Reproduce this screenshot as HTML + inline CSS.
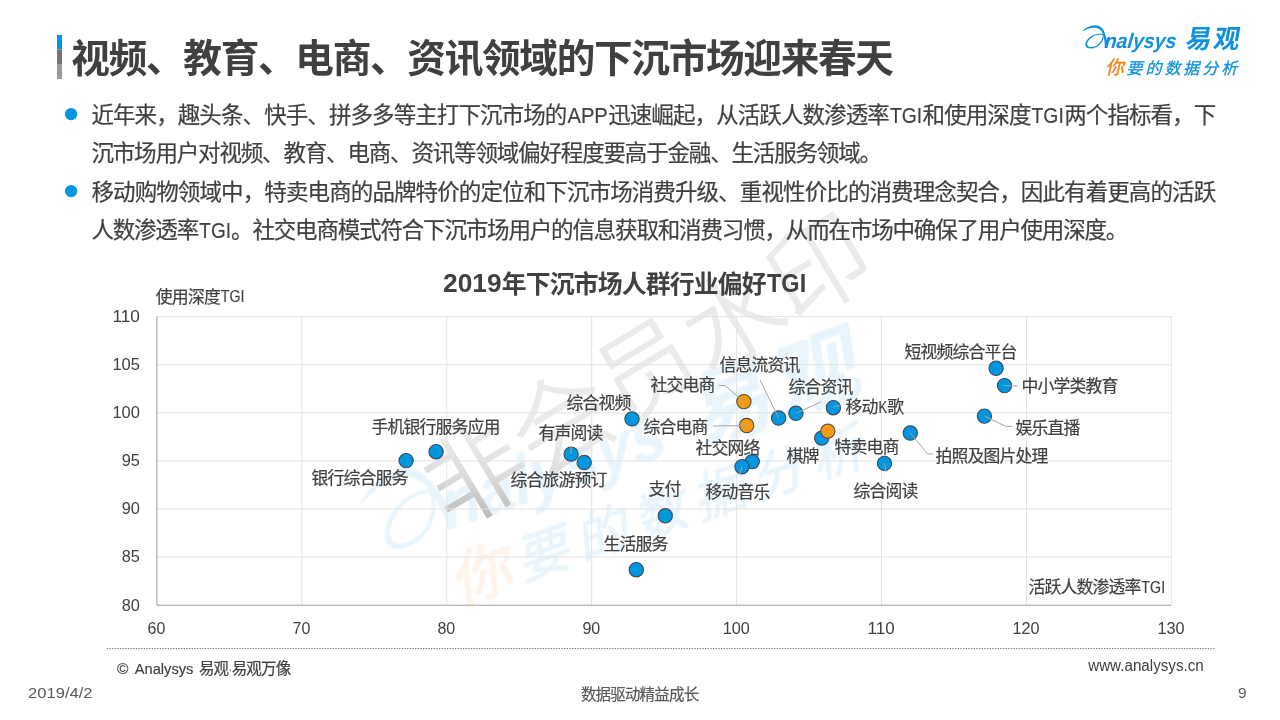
<!DOCTYPE html>
<html lang="zh-CN">
<head>
<meta charset="utf-8">
<title>视频、教育、电商、资讯领域的下沉市场迎来春天</title>
<style>
html,body{margin:0;padding:0;background:#fff;}
body{width:1280px;height:720px;overflow:hidden;font-family:"Liberation Sans","Noto Sans CJK SC",sans-serif;}
svg{display:block;}
svg text{font-family:"Liberation Sans","Noto Sans CJK SC",sans-serif;}
</style>
</head>
<body>
<svg width="1280" height="720" viewBox="0 0 1280 720" fill="#404040">
<defs>
<linearGradient id="wmg" gradientUnits="userSpaceOnUse" x1="-4.7" y1="-14.9" x2="36.5" y2="-83.4">
<stop offset="0" stop-color="#b9b9b9"/><stop offset=".5" stop-color="#d9d9d9"/><stop offset="1" stop-color="#ebebeb"/>
</linearGradient>
</defs>
<rect width="1280" height="720" fill="#fff"/>
<g id="watermark" aria-hidden="true"><g transform="translate(328.2 468.5) rotate(-19) scale(3.282)" opacity=".095"><g transform="scale(.08594)" fill="#1191dd"><path d="M65 158C100 120 160 84 220 83C275 82 315 115 332 165C340 190 350 222 362 262L362 345L335 345C338 300 330 215 300 158C282 128 250 112 210 112C160 112 110 135 65 158Z"/><path fill-rule="evenodd" d="M322 190C290 172 230 180 180 210C130 242 100 290 112 325C125 360 185 362 235 340C290 315 330 255 322 190ZM310 199C282 186 233 195 192 220C150 246 124 286 132 314C142 343 192 345 234 325C279 302 316 246 310 199Z"/></g><text transform="translate(28.2 29.7) skewX(-6)" font-size="21" font-style="italic" font-weight="bold" fill="#1191dd" textLength="71.6" lengthAdjust="spacingAndGlyphs">nalysys</text><g fill="#1191dd" transform="translate(109.3 30.2) skewX(-10) translate(-109.3 -30.2)"><text x="108.6" y="30.4" font-size="26" font-weight="bold" textLength="53.9">易观</text></g><g transform="translate(-5.5 -4)"><g fill="#f0861a" transform="translate(29.5 56.2) skewX(-12) translate(-29.5 -56.2)" stroke="#f0861a" stroke-width=".45"><text x="29.5" y="56.2" font-size="18.5">你</text></g><g fill="#1191dd" transform="translate(51.3 55.4) skewX(-14) translate(-51.3 -55.4)" stroke="#1191dd" stroke-width=".3"><text x="50.6" y="55.8" font-size="16" textLength="110.75">要的数据分析</text></g></g></g><g transform="translate(451.7 530.3) rotate(-31)"><text x="0" y="0" font-size="100" font-weight="300" fill="url(#wmg)" stroke="url(#wmg)" stroke-width="1.5" stroke-linejoin="round" textLength="500">非会员水印</text></g></g>
<g id="slide-title">
<rect x="57" y="35" width="5" height="14.5" fill="#0096e0"/>
<rect x="57" y="49.5" width="5" height="14.5" fill="#757575"/>
<rect x="57" y="64" width="5" height="15" fill="#9b9b9b"/>
<text x="71.35" y="71.7" font-size="38.64" font-weight="bold" fill="#404040" textLength="822.6">视频、教育、电商、资讯领域的下沉市场迎来春天</text>
</g>
<g id="bullets">
<g fill="#404040" stroke="#404040" stroke-width=".2"><text x="91.41" y="122.95" font-size="22.51" textLength="475.9">近年来，趣头条、快手、拼多多等主打下沉市场的</text><text x="608.19" y="122.95" font-size="22.51" textLength="281.6">迅速崛起，从活跃人数渗透率</text><text x="922.57" y="122.95" font-size="22.51" textLength="108.9">和使用深度</text><text x="1064.22" y="122.95" font-size="22.51" textLength="152">两个指标看，下</text><text x="567.51" y="122.5" font-size="21.65" textLength="40.29" lengthAdjust="spacingAndGlyphs" stroke="#404040" stroke-width=".15">APP</text><text x="889.94" y="122.5" font-size="21.65" textLength="32.18" lengthAdjust="spacingAndGlyphs" stroke="#404040" stroke-width=".15">TGI</text><text x="1031.58" y="122.5" font-size="21.65" textLength="32.18" lengthAdjust="spacingAndGlyphs" stroke="#404040" stroke-width=".15">TGI</text></g>
<g fill="#404040" stroke="#404040" stroke-width=".2"><text x="91.41" y="161.45" font-size="22.51" textLength="790.6">沉市场用户对视频、教育、电商、资讯等领域偏好程度要高于金融、生活服务领域。</text></g>
<g fill="#404040" stroke="#404040" stroke-width=".2"><text x="91.41" y="199.95" font-size="22.51" textLength="1124.8">移动购物领域中，特卖电商的品牌特价的定位和下沉市场消费升级、重视性价比的消费理念契合，因此有着更高的活跃</text></g>
<g fill="#404040" stroke="#404040" stroke-width=".2"><text x="91.41" y="238.45" font-size="22.51" textLength="107.8">人数渗透率</text><text x="231.06" y="238.45" font-size="22.51" textLength="897.3">。社交电商模式符合下沉市场用户的信息获取和消费习惯，从而在市场中确保了用户使用深度。</text><text x="199.3" y="238" font-size="21.65" textLength="31.68" lengthAdjust="spacingAndGlyphs" stroke="#404040" stroke-width=".15">TGI</text></g>
<circle cx="71.1" cy="114.1" r="6.2" fill="#0096e0"/>
<circle cx="71.1" cy="191.1" r="6.2" fill="#0096e0"/>
</g>
<g id="chart">
<path d="M301.83 316.6V605.2M446.76 316.6V605.2M591.69 316.6V605.2M736.61 316.6V605.2M881.54 316.6V605.2M1026.47 316.6V605.2M1171.4 316.6V605.2M156.9 316.6H1171.4M156.9 364.7H1171.4M156.9 412.8H1171.4M156.9 460.9H1171.4M156.9 509H1171.4M156.9 557.1H1171.4" stroke="#e3e3e3" stroke-width="1" fill="none"/>
<path d="M156.9 316.6V605.2H1171.4" stroke="#9a9a9a" stroke-width="1" stroke-linejoin="round" fill="none"/>
<text x="112.4" y="321.9" font-size="17.2" textLength="27.5" lengthAdjust="spacingAndGlyphs">110</text>
<text x="112.4" y="370" font-size="17.2" textLength="27.5" lengthAdjust="spacingAndGlyphs">105</text>
<text x="112.4" y="418.1" font-size="17.2" textLength="27.5" lengthAdjust="spacingAndGlyphs">100</text>
<text x="121.7" y="466.2" font-size="17.2" textLength="18.2" lengthAdjust="spacingAndGlyphs">95</text>
<text x="121.7" y="514.3" font-size="17.2" textLength="18.2" lengthAdjust="spacingAndGlyphs">90</text>
<text x="121.7" y="562.4" font-size="17.2" textLength="18.2" lengthAdjust="spacingAndGlyphs">85</text>
<text x="121.7" y="610.5" font-size="17.2" textLength="18.2" lengthAdjust="spacingAndGlyphs">80</text>
<text x="147.6" y="634.1" font-size="17.2" textLength="17.8" lengthAdjust="spacingAndGlyphs">60</text>
<text x="292.53" y="634.1" font-size="17.2" textLength="17.8" lengthAdjust="spacingAndGlyphs">70</text>
<text x="437.46" y="634.1" font-size="17.2" textLength="17.8" lengthAdjust="spacingAndGlyphs">80</text>
<text x="582.39" y="634.1" font-size="17.2" textLength="17.8" lengthAdjust="spacingAndGlyphs">90</text>
<text x="722.66" y="634.1" font-size="17.2" textLength="27.1" lengthAdjust="spacingAndGlyphs">100</text>
<text x="867.59" y="634.1" font-size="17.2" textLength="27.1" lengthAdjust="spacingAndGlyphs">110</text>
<text x="1012.52" y="634.1" font-size="17.2" textLength="27.1" lengthAdjust="spacingAndGlyphs">120</text>
<text x="1157.45" y="634.1" font-size="17.2" textLength="27.1" lengthAdjust="spacingAndGlyphs">130</text>
<g fill="#404040"><text x="501.87" y="292.72" font-size="24.84" font-weight="bold" textLength="264.8">年下沉市场人群行业偏好</text><text x="443.02" y="292.4" font-size="26.6" textLength="58.56" lengthAdjust="spacingAndGlyphs" font-weight="bold">2019</text><text x="767.02" y="292.4" font-size="26.6" textLength="39.16" lengthAdjust="spacingAndGlyphs" font-weight="bold">TGI</text></g>
<g fill="#404040" stroke="#404040" stroke-width=".2"><text x="155.86" y="302.63" font-size="16.88" textLength="64.9">使用深度</text><text x="220.78" y="302.3" font-size="16.24" textLength="23.76" lengthAdjust="spacingAndGlyphs" stroke="#404040" stroke-width=".15">TGI</text></g>
<g fill="#404040" stroke="#404040" stroke-width=".2"><text x="1028.44" y="593.33" font-size="16.88" textLength="112.9">活跃人数渗透率</text><text x="1141.36" y="593" font-size="16.24" textLength="23.76" lengthAdjust="spacingAndGlyphs" stroke="#404040" stroke-width=".15">TGI</text></g>
<circle cx="406.1" cy="460.6" r="7.15" fill="#0096e0" stroke="#3a4b5a" stroke-width="1.1"/>
<circle cx="436.1" cy="451.7" r="7.15" fill="#0096e0" stroke="#3a4b5a" stroke-width="1.1"/>
<circle cx="571.1" cy="454.1" r="7.15" fill="#0096e0" stroke="#3a4b5a" stroke-width="1.1"/>
<circle cx="584.2" cy="462.5" r="7.15" fill="#0096e0" stroke="#3a4b5a" stroke-width="1.1"/>
<circle cx="632" cy="418.9" r="7.15" fill="#0096e0" stroke="#3a4b5a" stroke-width="1.1"/>
<circle cx="743.9" cy="401.6" r="7.15" fill="#f39c11" stroke="#4f4a40" stroke-width="1.1"/>
<circle cx="746.7" cy="425.5" r="7.15" fill="#f39c11" stroke="#4f4a40" stroke-width="1.1"/>
<circle cx="778.6" cy="418" r="7.15" fill="#0096e0" stroke="#3a4b5a" stroke-width="1.1"/>
<circle cx="795.9" cy="413.3" r="7.15" fill="#0096e0" stroke="#3a4b5a" stroke-width="1.1"/>
<circle cx="833.4" cy="407.7" r="7.15" fill="#0096e0" stroke="#3a4b5a" stroke-width="1.1"/>
<circle cx="821.7" cy="438.1" r="7.15" fill="#0096e0" stroke="#3a4b5a" stroke-width="1.1"/>
<circle cx="827.8" cy="431.1" r="7.15" fill="#f39c11" stroke="#4f4a40" stroke-width="1.1"/>
<circle cx="752.3" cy="461.6" r="7.15" fill="#0096e0" stroke="#3a4b5a" stroke-width="1.1"/>
<circle cx="742" cy="466.7" r="7.15" fill="#0096e0" stroke="#3a4b5a" stroke-width="1.1"/>
<circle cx="884.5" cy="463.4" r="7.15" fill="#0096e0" stroke="#3a4b5a" stroke-width="1.1"/>
<circle cx="910.3" cy="433" r="7.15" fill="#0096e0" stroke="#3a4b5a" stroke-width="1.1"/>
<circle cx="984.4" cy="416.1" r="7.15" fill="#0096e0" stroke="#3a4b5a" stroke-width="1.1"/>
<circle cx="996.1" cy="368.3" r="7.15" fill="#0096e0" stroke="#3a4b5a" stroke-width="1.1"/>
<circle cx="1004.5" cy="385.6" r="7.15" fill="#0096e0" stroke="#3a4b5a" stroke-width="1.1"/>
<circle cx="665.3" cy="515.8" r="7.15" fill="#0096e0" stroke="#3a4b5a" stroke-width="1.1"/>
<circle cx="636.3" cy="569.7" r="7.15" fill="#0096e0" stroke="#3a4b5a" stroke-width="1.1"/>
<polyline points="571,447 571,454" fill="none" stroke="#a6a6a6" stroke-width="1"/>
<polyline points="719,385.5 725,385.5 743.9,401.6" fill="none" stroke="#a6a6a6" stroke-width="1"/>
<polyline points="713,426 746.7,425.5" fill="none" stroke="#a6a6a6" stroke-width="1"/>
<polyline points="760,380 778.6,418" fill="none" stroke="#a6a6a6" stroke-width="1"/>
<polyline points="821,402 795.9,413.3" fill="none" stroke="#a6a6a6" stroke-width="1"/>
<polyline points="841,406 835,406 833.4,407.7" fill="none" stroke="#a6a6a6" stroke-width="1"/>
<polyline points="742,466.7 739.8,474" fill="none" stroke="#a6a6a6" stroke-width="1"/>
<polyline points="886,472 884.5,463.4" fill="none" stroke="#a6a6a6" stroke-width="1"/>
<polyline points="933,453.9 927.6,453.9 910.3,433" fill="none" stroke="#a6a6a6" stroke-width="1"/>
<polyline points="1012.5,426.4 1006,426.4 984.4,416.1" fill="none" stroke="#a6a6a6" stroke-width="1"/>
<polyline points="1018,386 1004.5,385.6" fill="none" stroke="#a6a6a6" stroke-width="1"/>
<g fill="#404040" stroke="#404040" stroke-width=".2" font-size="16.88">
<text x="311.56" y="484.33" textLength="96.9">银行综合服务</text>
<text x="371.56" y="433.33" textLength="128.9">手机银行服务应用</text>
<text x="538.56" y="439.33" textLength="64.9">有声阅读</text>
<text x="510.56" y="486.33" textLength="96.9">综合旅游预订</text>
<text x="566.56" y="409.33" textLength="64.9">综合视频</text>
<text x="650.56" y="391.33" textLength="64.9">社交电商</text>
<text x="643.56" y="433.33" textLength="64.9">综合电商</text>
<text x="719.56" y="371.33" textLength="80.9">信息流资讯</text>
<text x="788.56" y="393.33" textLength="64.9">综合资讯</text>
<text x="845.56" y="413.33" textLength="32.9">移动</text>
<text x="887.15" y="413.33">歌</text>
<text x="878.48" y="413" font-size="16.24" textLength="8.64" lengthAdjust="spacingAndGlyphs" stroke="#404040" stroke-width=".15">K</text>
<text x="786.56" y="462.33" textLength="32.9">棋牌</text>
<text x="834.56" y="453.33" textLength="64.9">特卖电商</text>
<text x="695.56" y="454.33" textLength="64.9">社交网络</text>
<text x="705.56" y="498.33" textLength="64.9">移动音乐</text>
<text x="853.56" y="497.33" textLength="64.9">综合阅读</text>
<text x="935.56" y="462.33" textLength="112.9">拍照及图片处理</text>
<text x="1015.56" y="434.33" textLength="64.9">娱乐直播</text>
<text x="904.56" y="358.33" textLength="112.9">短视频综合平台</text>
<text x="1021.56" y="392.33" textLength="96.9">中小学类教育</text>
<text x="648.56" y="495.33" textLength="32.9">支付</text>
<text x="603.56" y="550.33" textLength="64.9">生活服务</text>
</g>
</g>
<g id="footer">
<path d="M106.5 648.5H1214.5" stroke="#7a7a7a" stroke-width="1" stroke-dasharray="1.33 1.33" fill="none"/>
<g fill="#404040" stroke="#404040" stroke-width=".2"><text x="198.91" y="673.91" font-size="15.48" textLength="30.16">易观</text><text x="231.67" y="673.91" font-size="15.48" textLength="59.5">易观万像</text><text x="117.04" y="673.6" font-size="14.89" textLength="11.42" lengthAdjust="spacingAndGlyphs" stroke="#404040" stroke-width=".15">©</text><text x="134.74" y="673.6" font-size="14.89" textLength="58.72" lengthAdjust="spacingAndGlyphs" stroke="#404040" stroke-width=".15">Analysys</text><text x="229.08" y="673.6" font-size="14.89" textLength="2.52" lengthAdjust="spacingAndGlyphs" stroke="#404040" stroke-width=".15">·</text></g>
<text x="1088.2" y="671" font-size="16" textLength="115.6" lengthAdjust="spacingAndGlyphs">www.analysys.cn</text>
<text x="28" y="698" font-size="15.4" fill="#595959" textLength="64.6" lengthAdjust="spacingAndGlyphs">2019/4/2</text>
<text x="580.92" y="699.81" font-size="15.48" fill="#595959" stroke="#595959" stroke-width=".2" textLength="118.2">数据驱动精益成长</text>
<text x="1238" y="698.2" font-size="15.4" fill="#595959">9</text>
</g>
<g id="logo" transform="translate(1076 18)"><g transform="scale(.08594)" fill="#1191dd"><path d="M65 158C100 120 160 84 220 83C275 82 315 115 332 165C340 190 350 222 362 262L362 345L335 345C338 300 330 215 300 158C282 128 250 112 210 112C160 112 110 135 65 158Z"/><path fill-rule="evenodd" d="M322 190C290 172 230 180 180 210C130 242 100 290 112 325C125 360 185 362 235 340C290 315 330 255 322 190ZM310 199C282 186 233 195 192 220C150 246 124 286 132 314C142 343 192 345 234 325C279 302 316 246 310 199Z"/></g><text transform="translate(28.2 29.7) skewX(-6)" font-size="21" font-style="italic" font-weight="bold" fill="#1191dd" textLength="71.6" lengthAdjust="spacingAndGlyphs">nalysys</text><g fill="#1191dd" transform="translate(109.3 30.2) skewX(-10) translate(-109.3 -30.2)"><text x="108.6" y="30.4" font-size="26" font-weight="bold" textLength="53.9">易观</text></g><g transform="translate(0 0)"><g fill="#f0861a" transform="translate(29.5 56.2) skewX(-12) translate(-29.5 -56.2)" stroke="#f0861a" stroke-width=".45"><text x="29.5" y="56.2" font-size="18.5">你</text></g><g fill="#1191dd" transform="translate(51.3 55.4) skewX(-14) translate(-51.3 -55.4)" stroke="#1191dd" stroke-width=".3"><text x="50.6" y="55.8" font-size="16" textLength="110.75">要的数据分析</text></g></g></g>
</svg>
</body>
</html>
